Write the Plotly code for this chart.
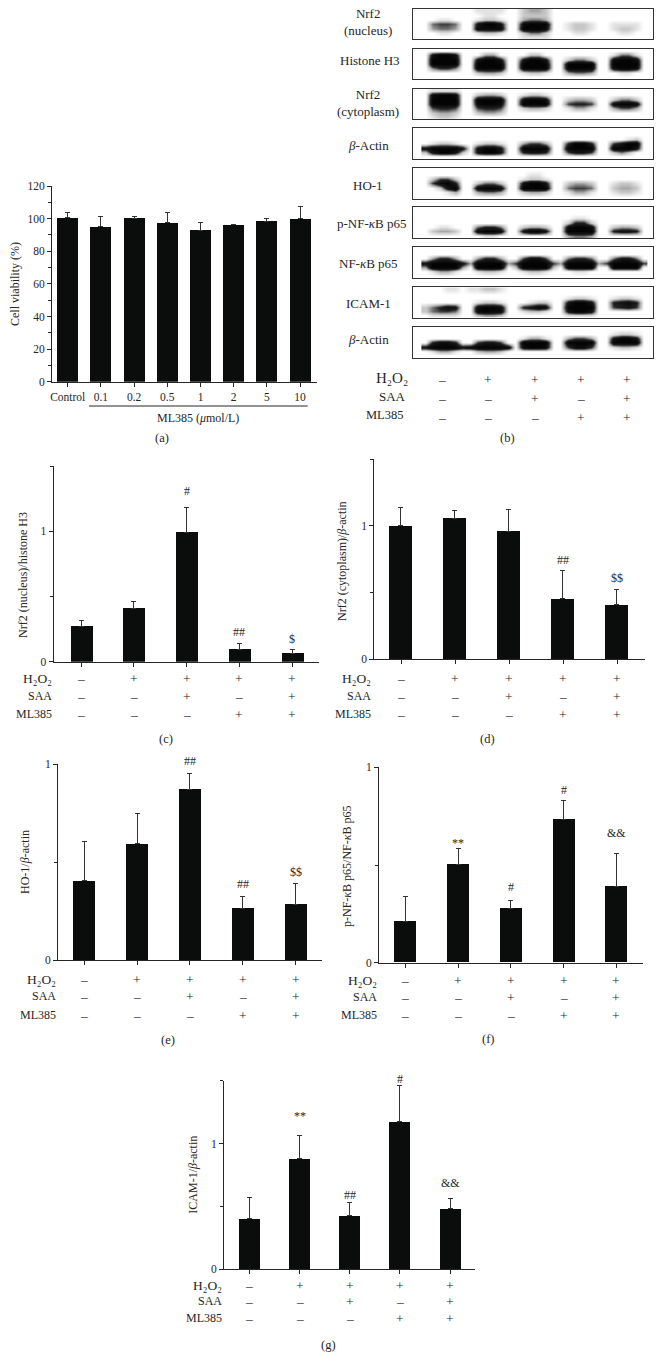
import plotly.graph_objects as go

W, H = 662, 1371
FONT = "Liberation Serif"
INK = "#262626"
BAR = "#0a0d0b"

# ---------- data: panel (a) ----------
viability_labels = ["Control", "0.1", "0.2", "0.5", "1", "2", "5", "10"]
viability_mean = [100.4, 95.1, 100.2, 97.5, 93.0, 96.1, 98.4, 99.8]
viability_err = [3.5, 6.5, 1.4, 6.0, 4.5, 0.4, 1.6, 7.6]

# ---------- data: treatment panels ----------
row_names = ["H₂O₂", "SAA", "ML385"]
h2o2 = ["–", "+", "+", "+", "+"]
saa = ["–", "–", "+", "–", "+"]
ml385 = ["–", "–", "–", "+", "+"]

nucleus_mean = [0.27, 0.408, 0.992, 0.097, 0.064]
nucleus_err = [0.045, 0.056, 0.193, 0.039, 0.031]
nucleus_marks = ["", "", "#", "##", "$"]
nucleus_mark_y = [0, 0, 1.31, 0.23, 0.172]

cyto_mean = [1.002, 1.055, 0.96, 0.454, 0.409]
cyto_err = [0.133, 0.062, 0.162, 0.209, 0.117]
cyto_marks = ["", "", "", "##", "$$"]
cyto_mark_y = [0, 0, 0, 0.743, 0.606]

ho1_mean = [0.404, 0.593, 0.872, 0.262, 0.286]
ho1_err = [0.202, 0.157, 0.082, 0.063, 0.104]
ho1_marks = ["", "", "##", "##", "$$"]
ho1_mark_y = [0, 0, 1.017, 0.387, 0.448]

pnf_mean = [0.21, 0.505, 0.276, 0.734, 0.389]
pnf_err = [0.128, 0.077, 0.041, 0.094, 0.169]
pnf_marks = ["", "**", "#", "#", "&&"]
pnf_mark_y = [0, 0.614, 0.389, 0.884, 0.665]

icam_mean = [0.399, 0.878, 0.423, 1.173, 0.481]
icam_err = [0.17, 0.183, 0.109, 0.287, 0.083]
icam_marks = ["", "**", "##", "#", "&&"]
icam_mark_y = [0, 1.218, 0.593, 1.516, 0.686]

# ---------- data: western blots (darkness 0-9, five lanes of six cells, seven rows) ----------
blot_nrf2_nucleus = [
    "000000 011110 023320 000000 000000",
    "000000 001100 022220 000000 000000",
    "001100 012210 034430 000000 000000",
    "045540 079970 089990 012210 011110",
    "034430 088880 099980 012210 012210",
    "001100 012210 024420 001100 001100",
    "000000 000000 011110 000000 000000",
]
blot_histone = [
    "000000 000000 000000 000000 000000",
    "079970 003300 002200 000000 014410",
    "099990 079970 079970 024420 089980",
    "099990 099990 099990 099990 099990",
    "046640 099990 099990 099990 089980",
    "000000 023320 012210 034430 001100",
    "000000 000000 000000 000000 000000",
]
blot_nrf2_cyto = [
    "011110 000000 000000 000000 000000",
    "089980 023320 012210 000000 000000",
    "099990 099990 089980 023320 024420",
    "099990 089980 099990 056650 089980",
    "056650 056650 023320 013310 035530",
    "023320 023320 000000 000000 000000",
    "012210 000000 000000 000000 000000",
]
blot_actin_1 = [
    "000000 000000 000000 000000 000000",
    "000000 000000 000000 000000 000000",
    "000000 000000 000000 000000 000120",
    "012210 012210 035530 069960 057990",
    "799997 079970 099990 099990 099970",
    "279972 079970 067760 057750 024200",
    "000000 000000 000000 000000 000000",
]
blot_ho1 = [
    "000000 000000 000000 000000 000000",
    "000000 000000 001100 000000 000000",
    "025520 000000 012210 000000 000000",
    "058960 024420 079970 023320 012210",
    "002790 089980 099990 045540 023320",
    "000130 034430 023320 013310 012210",
    "000000 000000 000000 000000 000000",
]
blot_p_nfkb = [
    "000000 000000 000000 000000 000000",
    "000000 000000 000000 000000 000000",
    "000000 000000 000000 001100 000000",
    "000000 000000 000000 026620 000000",
    "001100 046640 023320 089980 023320",
    "023320 089980 079970 099990 067760",
    "000000 001100 000000 034430 000000",
]
blot_nfkb = [
    "000000 000000 000000 000000 000000",
    "000000 000000 000000 000000 000000",
    "036630 036630 058850 046640 047740",
    "799997 399993 599995 399993 599995",
    "399993 099990 299992 099990 099990",
    "013310 012210 012210 001100 000000",
    "000000 000000 000000 000000 000000",
]
blot_icam = [
    "000110 112210 000000 000000 000000",
    "000000 000000 000000 000000 000000",
    "000000 000000 000000 012210 012210",
    "000000 012210 001220 079970 067860",
    "246870 089980 067980 099990 056750",
    "245540 089880 012210 079970 000000",
    "011110 023320 000000 011110 000000",
]
blot_actin_2 = [
    "000000 000000 000000 000000 000000",
    "000000 000000 000000 000000 012210",
    "000000 000000 013310 035530 079970",
    "068860 057750 099990 099990 099990",
    "799997 899998 089980 058850 012210",
    "013310 023320 000000 000000 000000",
    "000000 000000 000000 000000 000000",
]
blot_names = ["Nrf2<br>(nucleus)", "Histone H3", "Nrf2<br>(cytoplasm)", "<i>β</i>-Actin", "HO-1",
              "p-NF-<i>κ</i>B p65", "NF-<i>κ</i>B p65", "ICAM-1", "<i>β</i>-Actin"]
blots = [blot_nrf2_nucleus, blot_histone, blot_nrf2_cyto, blot_actin_1, blot_ho1,
         blot_p_nfkb, blot_nfkb, blot_icam, blot_actin_2]

# ---------- layout (pixels) ----------
fig = go.Figure()
annotations = []
axes = {}
counter = [0]


def px(x):
    return x / W


def py(y):
    return 1 - y / H


def new_axes():
    counter[0] += 1
    n = counter[0]
    suffix = "" if n == 1 else str(n)
    return n, "xaxis" + suffix, "yaxis" + suffix, "x" + suffix, "y" + suffix


def text(x, y, s, size=11.5, anchor="center", angle=0, xref="paper", yref="paper", color=INK):
    annotations.append(dict(x=x, y=y, text=s, xref=xref, yref=yref, showarrow=False,
                            xanchor=anchor, yanchor="middle", textangle=angle,
                            font=dict(family=FONT, size=size, color=color)))


def bar_panel(means, errs, left, right, y0, ytop, first, spacing, width, ymax, yvals, ylabels,
              xvals, xlabels, minor):
    n, xa, ya, xr, yr = new_axes()
    lo = (left - first) / spacing
    hi = (right - first) / spacing
    axes[xa] = dict(domain=[px(left), px(right)], range=[lo, hi], anchor=yr, showgrid=False,
                    zeroline=False, showline=True, linecolor=INK, linewidth=1, ticks="outside",
                    ticklen=4, tickwidth=1, tickcolor=INK, tickvals=xvals,
                    fixedrange=True)
    if xlabels:
        axes[xa]["ticktext"] = xlabels
        axes[xa]["tickfont"] = dict(family=FONT, size=11.5, color=INK)
    else:
        axes[xa]["showticklabels"] = False
    axes[ya] = dict(domain=[py(y0), py(ytop)], range=[0, ymax], anchor=xr, showgrid=False,
                    zeroline=False, showline=True, linecolor=INK, linewidth=1, ticks="outside",
                    ticklen=4, tickwidth=1, tickcolor=INK, tickvals=yvals, ticktext=ylabels,
                    tickfont=dict(family=FONT, size=11.5, color=INK), fixedrange=True,
                    minor=dict(dtick=minor, ticks="outside", ticklen=3, tickcolor=INK, tickwidth=1))
    fig.add_trace(go.Bar(
        x=list(range(len(means))), y=means, width=width / spacing, xaxis=xr, yaxis=yr,
        marker=dict(color=BAR, line=dict(width=0)), showlegend=False,
        error_y=dict(type="data", symmetric=False, array=errs, arrayminus=[0] * len(errs),
                     color="#333333", thickness=1, width=2.5),
    ))
    return xr, yr


def treatment_panel(means, errs, marks, mark_y, y_title, caption, geom):
    xr, yr = bar_panel(means, errs, geom["left"], geom["right"], geom["y0"], geom["ytop"],
                       geom["first"], geom["spacing"], geom["width"], geom["ymax"],
                       geom["yvals"], geom["ylabels"], list(range(5)), None, 0.5)
    unit = (geom["y0"] - geom["ytop"]) / geom["ymax"]
    for i, m in enumerate(marks):
        if m:
            # paper reference: some marks sit above the top of the axis
            text(i, py(geom["y0"] - mark_y[i] * unit), m, size=12, xref=xr)
    for row_y, name, signs, sz in zip(geom["rows"], row_names, [h2o2, saa, ml385], [13.5, 12, 12]):
        text(px(geom["label_right"]), py(row_y), name, size=sz, anchor="right")
        for i, s in enumerate(signs):
            text(i, py(row_y), s, size=13.5, xref=xr)
    text(px(geom["title_x"]), py(geom["title_y"]), y_title, size=12, angle=-90)
    text(px(geom["cap_x"]), py(geom["cap_y"]), caption, size=12.5)


# panel (a)
xr_a, yr_a = bar_panel(viability_mean, viability_err, 52, 317, 381.7, 186, 67.7, 33.2, 21, 120,
                       [0, 20, 40, 60, 80, 100, 120], ["0", "20", "40", "60", "80", "100", "120"],
                       list(range(8)), viability_labels, 10)
text(px(15), py(284), "Cell viability (%)", size=12, angle=-90)
text(px(198), py(417.7), "ML385 (<i>μ</i>mol/L)", size=12)
text(px(162), py(438), "(a)", size=12.5)
line_a = dict(type="line", xref="paper", yref="paper", x0=px(89), x1=px(307.7), y0=py(406), y1=py(406),
              line=dict(color=INK, width=1))

half_ticks = dict(yvals=[0, 1], ylabels=["0", "1"], ymax=1.5)
unit_ticks = dict(yvals=[0, 1], ylabels=["0", "1"], ymax=1)

treatment_panel(nucleus_mean, nucleus_err, nucleus_marks, nucleus_mark_y, "Nrf2 (nucleus)/histone H3", "(c)",
                dict(left=53.5, right=319, y0=661.7, ytop=466, first=81, spacing=52.75, width=22,
                     rows=[679, 696, 714], label_right=54, title_x=23, title_y=575, cap_x=166, cap_y=739,
                     **half_ticks))
treatment_panel(cyto_mean, cyto_err, cyto_marks, cyto_mark_y, "Nrf2 (cytoplasm)/<i>β</i>-actin", "(d)",
                dict(left=374.3, right=645, y0=659.3, ytop=459, first=401, spacing=54, width=22.7,
                     rows=[678.7, 696, 714], label_right=373, title_x=342, title_y=561, cap_x=487, cap_y=739,
                     **half_ticks))
treatment_panel(ho1_mean, ho1_err, ho1_marks, ho1_mark_y, "HO-1/<i>β</i>-actin", "(e)",
                dict(left=58, right=322, y0=960, ytop=764.3, first=84.3, spacing=52.8, width=22,
                     rows=[979.3, 996.3, 1015], label_right=58, title_x=25, title_y=862, cap_x=168, cap_y=1040,
                     **unit_ticks))
treatment_panel(pnf_mean, pnf_err, pnf_marks, pnf_mark_y, "p-NF-<i>κ</i>B p65/NF-<i>κ</i>B p65", "(f)",
                dict(left=379, right=642.7, y0=962.7, ytop=767.3, first=405.3, spacing=52.75, width=22,
                     rows=[980.7, 997.3, 1015], label_right=379, title_x=347, title_y=866, cap_x=488, cap_y=1039,
                     **unit_ticks))
treatment_panel(icam_mean, icam_err, icam_marks, icam_mark_y, "ICAM-1/<i>β</i>-actin", "(g)",
                dict(left=224, right=475, y0=1269, ytop=1080.7, first=249.3, spacing=50.2, width=21,
                     rows=[1285.7, 1301, 1318.3], label_right=224, title_x=192.7, title_y=1175, cap_x=328, cap_y=1345,
                     **half_ticks))

# panel (b): blots
blot_left, blot_right = 413.3, 653
lane_first, lane_step = 444.0, 45.2
blot_tops = [8.7, 48.7, 88.7, 128.3, 168, 207, 247.3, 287.3, 327.3]
blot_bottoms = [39.3, 79, 119, 158.7, 198.7, 238, 278.3, 317.7, 357.7]
label_y = [22, 61, 103, 145, 185, 223, 263, 303, 339]
label_x = [368, 370, 368, 368, 368, 371, 368, 368, 368]
cell_x = [i + (j - 2.5) / 6 for i in range(5) for j in range(6)]
blot_colors = [[0, "#ffffff"], [0.3, "#b4b4b4"], [0.62, "#202020"], [1, "#040404"]]

for rows, name, top, bottom, ly, lx in zip(blots, blot_names, blot_tops, blot_bottoms, label_y, label_x):
    n, xa, ya, xr, yr = new_axes()
    z = [[int(c) for c in row.replace(" ", "")] for row in rows]
    axes[xa] = dict(domain=[px(blot_left), px(blot_right)],
                    range=[(blot_left - lane_first) / lane_step, (blot_right - lane_first) / lane_step],
                    anchor=yr, showgrid=False, zeroline=False, showline=True, mirror=True, linecolor="#333333",
                    linewidth=1, showticklabels=False, ticks="", fixedrange=True)
    axes[ya] = dict(domain=[py(bottom), py(top)], range=[6.5, -0.5], anchor=xr, showgrid=False, zeroline=False,
                    showline=True, mirror=True, linecolor="#333333", linewidth=1, showticklabels=False,
                    ticks="", fixedrange=True)
    fig.add_trace(go.Heatmap(z=z, x=cell_x, y=list(range(7)), xaxis=xr, yaxis=yr, zmin=0, zmax=9, zsmooth="best",
                             showscale=False, hoverinfo="skip", colorscale=blot_colors))
    text(px(lx), py(ly), name, size=13)

sign_x = [441.7, 488, 534.7, 580.7, 626.7]
for name, right, ly, signs, sy, sz in zip(row_names, [410, 407.7, 406], [378, 397, 415],
                                          [h2o2, saa, ml385], [380, 398, 417], [15, 13, 12.5]):
    text(px(right), py(ly), name, size=sz, anchor="right")
    for x, s in zip(sign_x, signs):
        text(px(x), py(sy), s, size=13.5)
text(px(507), py(438), "(b)", size=12.5)

fig.update_layout(
    width=W, height=H, margin=dict(l=0, r=0, t=0, b=0, autoexpand=False), paper_bgcolor="white",
    plot_bgcolor="white", showlegend=False, annotations=annotations, shapes=[line_a], bargap=0, **axes,
)
fig.write_html("out.html", config=dict(displayModeBar=False, responsive=False),
               post_script="document.body.style.margin='0';document.documentElement.style.overflow='hidden';")
